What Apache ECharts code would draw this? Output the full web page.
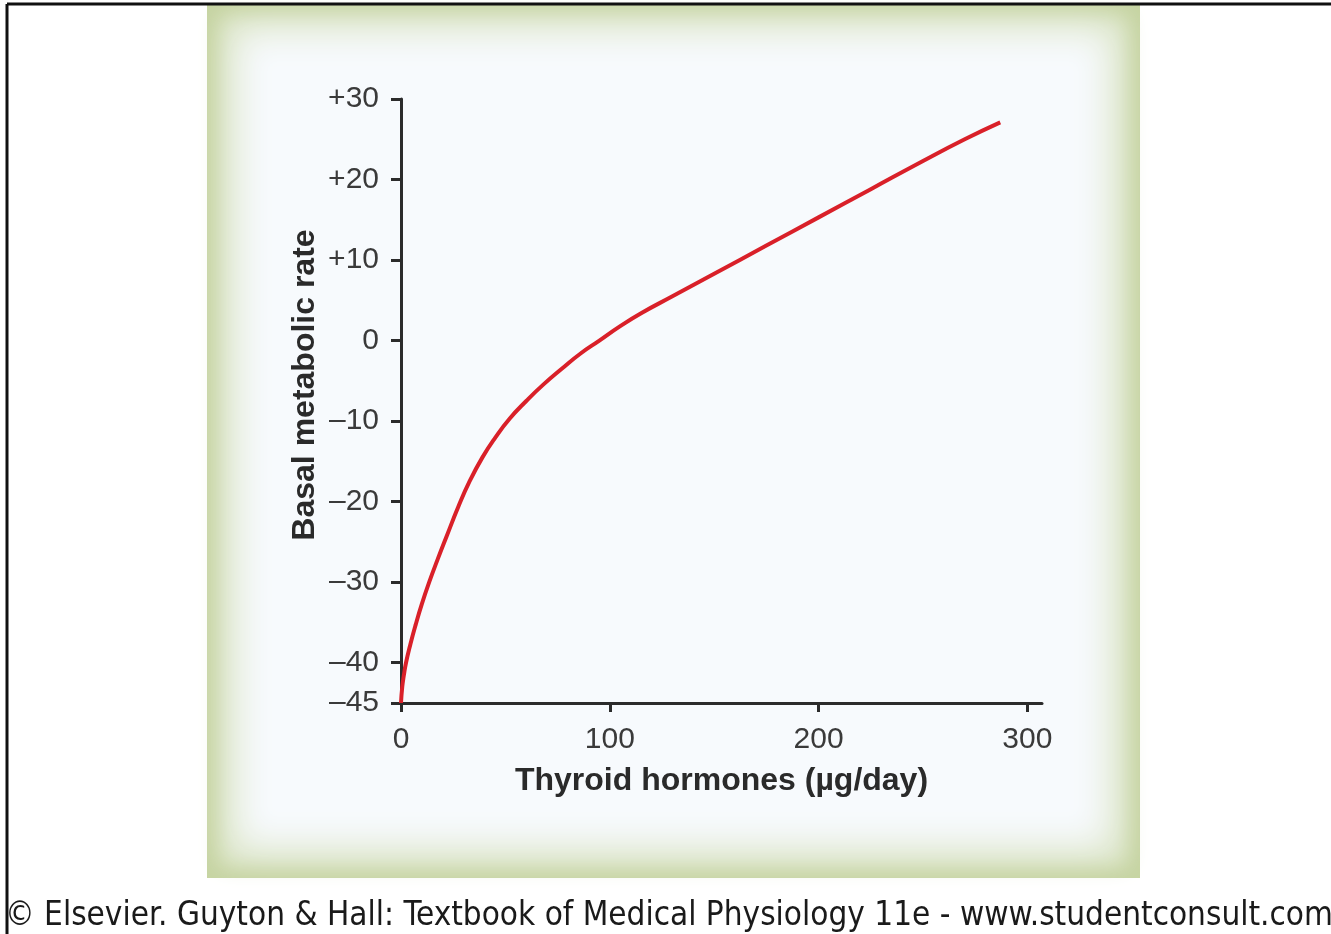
<!DOCTYPE html>
<html>
<head>
<meta charset="utf-8">
<script src="https://cdn.jsdelivr.net/npm/echarts@6/dist/echarts.min.js"></script>
<style>
  html, body { margin: 0; padding: 0; background: #ffffff; }
  #chart { width: 1331px; height: 934px; }
</style>
</head>
<body>
<div id="chart"></div>
<script>
// Data
const hormoneValues = [0, 0.6, 1.4, 2.4, 4.5, 7, 10, 13.5, 17.5, 22, 27.5, 33, 39, 45, 52, 60, 68, 77, 86, 95, 105, 115, 130, 150, 175, 200, 225, 250, 270, 287];
const bmrValues = [-45, -43, -41.5, -40, -37.7, -35.3, -32.7, -30, -27.2, -24.2, -20.6, -17.4, -14.5, -12.1, -9.7, -7.5, -5.5, -3.5, -1.6, 0, 1.8, 3.4, 5.5, 8.3, 11.8, 15.3, 18.8, 22.3, 25, 27.1];
const xTickValues = [0, 100, 200, 300];
const yTickValues = [-45, -40, -30, -20, -10, 0, 10, 20, 30];
const xAxisTitle = 'Thyroid hormones (µg/day)';
const yAxisTitle = 'Basal metabolic rate';
const creditText = '© Elsevier. Guyton & Hall: Textbook of Medical Physiology 11e - www.studentconsult.com';

const seriesData = hormoneValues.map((x, i) => [x, bmrValues[i]]);

const chart = echarts.init(document.getElementById('chart'), null, { renderer: 'canvas' });

function yLabel(v) {
  if (v > 0) return '+' + v;
  if (v < 0) return '\u2013' + Math.abs(v);
  return '0';
}

const labelFont = {
  fontFamily: 'Liberation Sans, Arial, sans-serif',
  fontSize: 30,
  color: '#3a3a3a'
};

const OFF = 3000;

const option = {
  animation: false,
  backgroundColor: '#ffffff',
  graphic: [
    // green frame
    { type: 'rect', z: -10, silent: true,
      shape: { x: 207, y: 5, width: 933, height: 873 },
      style: { fill: '#c6d4a2' } },
    // soft lighter green band (blurred shadow of an off-screen rect)
    { type: 'rect', z: -9, silent: true,
      shape: { x: 220 - OFF, y: 16, width: 907, height: 850 },
      style: { fill: '#dce5c8', shadowBlur: 20, shadowColor: '#dce5c8', shadowOffsetX: OFF } },
    // soft near-white panel
    { type: 'rect', z: -8, silent: true,
      shape: { x: 236 - OFF, y: 30, width: 874, height: 818 },
      style: { fill: '#f7fafd', shadowBlur: 34, shadowColor: '#f7fafd', shadowOffsetX: OFF } },
    // outer black border
    { type: 'line', z: 10, silent: true,
      shape: { x1: 7, y1: 4, x2: 1331, y2: 4 },
      style: { stroke: '#111111', lineWidth: 3 } },
    { type: 'line', z: 10, silent: true,
      shape: { x1: 7, y1: 4, x2: 7, y2: 934 },
      style: { stroke: '#111111', lineWidth: 3 } },
    // y axis title
    { type: 'text', z: 10, silent: true,
      x: 305, y: 385, rotation: Math.PI / 2,
      style: { text: yAxisTitle, fontFamily: 'Liberation Sans, Arial, sans-serif',
               fontWeight: 'bold', fontSize: 32, fill: '#2a2a2a',
               align: 'center', verticalAlign: 'middle' } },
    // credit line
    { type: 'text', z: 10, silent: true,
      x: 5, y: 916,
      style: { text: creditText, fontFamily: 'DejaVu Sans Condensed, DejaVu Sans, sans-serif',
               fontSize: 33, fill: '#1a1a1a', align: 'left', verticalAlign: 'middle' } }
  ],
  grid: {
    left: 401,
    top: 99,
    right: 289,
    bottom: 231,
    containLabel: false
  },
  xAxis: {
    type: 'value',
    min: 0,
    max: 307,
    interval: 100,
    name: xAxisTitle,
    nameLocation: 'middle',
    nameGap: 62,
    nameTextStyle: {
      fontFamily: 'Liberation Sans, Arial, sans-serif',
      fontWeight: 'bold', fontSize: 32, color: '#2a2a2a'
    },
    splitLine: { show: false },
    axisLine: { show: true, onZero: false, lineStyle: { color: '#2b2b2b', width: 3 } },
    axisTick: { show: true, inside: false, length: 9, customValues: xTickValues,
                lineStyle: { color: '#2b2b2b', width: 3 } },
    axisLabel: Object.assign({ margin: 22, customValues: xTickValues }, labelFont)
  },
  yAxis: {
    type: 'value',
    min: -45,
    max: 30,
    interval: 5,
    splitLine: { show: false },
    axisLine: { show: true, onZero: false, lineStyle: { color: '#2b2b2b', width: 3 } },
    axisTick: { show: true, inside: false, length: 10, customValues: yTickValues,
                lineStyle: { color: '#2b2b2b', width: 3 } },
    axisLabel: Object.assign({ margin: 22, customValues: yTickValues, formatter: yLabel }, labelFont)
  },
  series: [{
    type: 'line',
    data: seriesData,
    smooth: 0.5,
    showSymbol: false,
    clip: false,
    lineStyle: { color: '#d92029', width: 4 },
    z: 5
  }]
};

chart.setOption(option);
</script>
</body>
</html>
